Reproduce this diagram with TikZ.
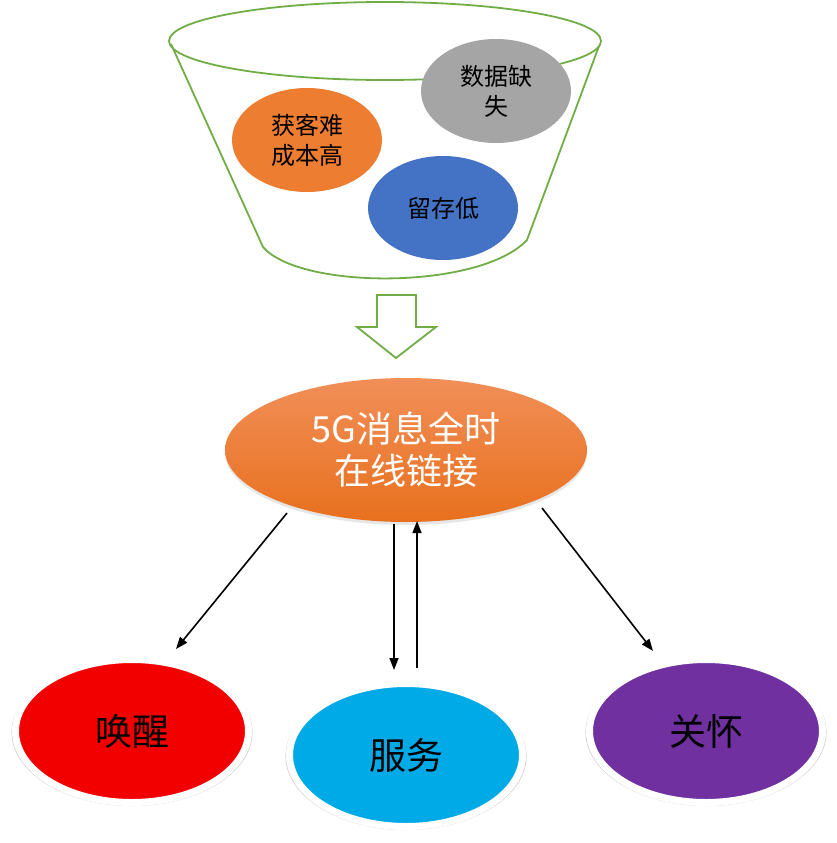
\documentclass[tikz,border=0pt]{standalone}
\usepackage{fontspec}
\setmainfont{Noto Sans CJK SC}
\usetikzlibrary{shapes.geometric, arrows.meta, shadows}
\definecolor{funnelgreen}{RGB}{112,173,71}
\definecolor{painorange}{RGB}{237,125,49}
\definecolor{paingray}{RGB}{165,165,165}
\definecolor{painblue}{RGB}{68,114,196}
\definecolor{hubtop}{RGB}{241,143,88}
\definecolor{hubbottom}{RGB}{232,112,30}
\definecolor{goalred}{RGB}{242,0,0}
\definecolor{goalcyan}{RGB}{0,170,230}
\definecolor{goalpurple}{RGB}{112,48,160}
\begin{document}
\begin{tikzpicture}[x=1pt, y=-1pt,
  pain/.style={ellipse, inner sep=0pt, minimum width=150, minimum height=104,
    align=center, font=\fontsize{24}{30}\selectfont},
  goal/.style={ellipse, draw=white, line width=7pt, inner sep=0pt,
    minimum width=233, minimum height=143, font=\fontsize{37}{44}\selectfont,
    general shadow={fill=black!18, shadow scale=1.035, shadow yshift=-1pt}},
  link/.style={-{Triangle[length=12pt, width=9pt]}, line width=1.6pt}]
\useasboundingbox (0,0) rectangle (837,843);
% funnel
\draw[funnelgreen, line width=1.8pt] (385,41) ellipse [x radius=216, y radius=39];
\draw[funnelgreen, line width=1.8pt, line join=round]
  (171,44) -- (263,247) .. controls (300,290) and (480,290) .. (527,240) -- (599,46);
\node[pain, fill=paingray] (lost) at (496,91) {数据缺\\失};
\node[pain, fill=painorange] (cost) at (307,140) {获客难\\成本高};
\node[pain, fill=painblue] (keep) at (443,208) {留存低};
% block arrow
\draw[funnelgreen, line width=1.8pt, fill=white]
  (377,295) -- (416,295) -- (416,327) -- (436,327) -- (396,358) -- (357,327) -- (377,327) -- cycle;
% hub
\node[ellipse, inner sep=0pt, minimum width=362, minimum height=144,
  top color=hubtop, bottom color=hubbottom, text=white, align=center,
  font=\fontsize{36}{42}\selectfont,
  drop shadow={opacity=0.2, shadow xshift=0pt, shadow yshift=-3pt}]
  (hub) at (406,450) {5G消息全时\\在线链接};
% goals
\node[goal, fill=goalred] (wake) at (132,731) {唤醒};
\node[goal, fill=goalcyan] (serve) at (406,755) {服务};
\node[goal, fill=goalpurple] (care) at (706,731) {关怀};
% links
\coordinate (wake in) at (176,649);
\coordinate (care in) at (653,651);
\coordinate (serve in) at (394,670);
\coordinate (serve out) at (417,668);
\coordinate (hub l) at (287,513);
\coordinate (hub r) at (542,508);
\coordinate (hub d) at (394,524);
\coordinate (hub u) at (417,521);
\draw[link] (hub l) -- (wake in);
\draw[link] (hub r) -- (care in);
\draw[link] (hub d) -- (serve in);
\draw[link] (serve out) -- (hub u);
\end{tikzpicture}
\end{document}
